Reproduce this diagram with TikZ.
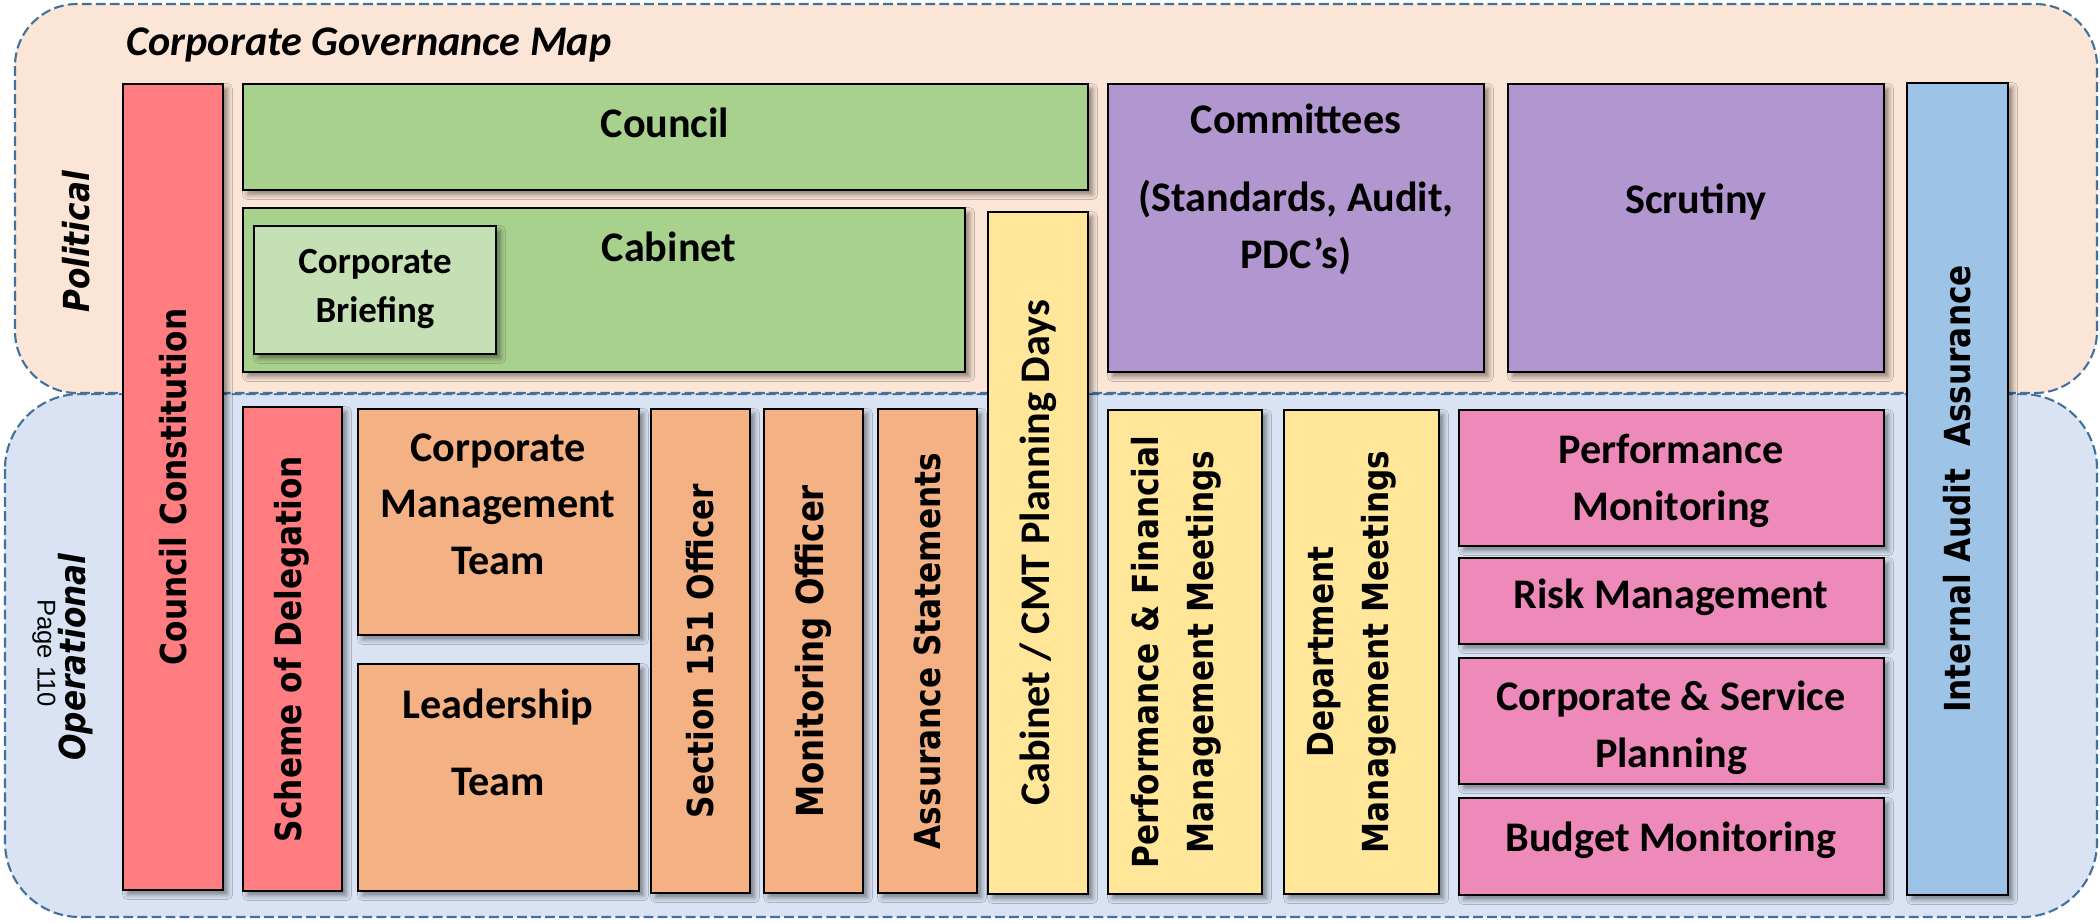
\documentclass[tikz,border=0pt]{standalone}
\usepackage{fontspec}
\setmainfont{Carlito}
\newfontfamily\tallfont{DejaVu Sans}[FakeStretch=0.87,
  ItalicFont=DejaVu Sans Oblique, BoldItalicFont=DejaVu Sans Bold Oblique]
\newfontfamily\pagefont{Liberation Sans}
\usepackage{xcolor}
\usetikzlibrary{shadows.blur}

\definecolor{politicalbg}{HTML}{FBE5D6}
\definecolor{operationalbg}{HTML}{DAE3F3}
\definecolor{regionline}{HTML}{41719C}
\definecolor{redbox}{HTML}{FF7C80}
\definecolor{greenbox}{HTML}{A9D18E}
\definecolor{palegreen}{HTML}{C5E0B4}
\definecolor{orangebox}{HTML}{F4B183}
\definecolor{yellowbox}{HTML}{FFE699}
\definecolor{purplebox}{HTML}{B296D0}
\definecolor{pinkbox}{HTML}{ED8AB9}
\definecolor{bluebox}{HTML}{9DC3E6}

\begin{document}
\begin{tikzpicture}[
    x=0.1mm, y=-0.1mm,
    % dashed panels behind everything
    region/.style={draw=regionline, line width=0.6pt, dash pattern=on 2.8pt off 1.2pt},
    % the coloured blocks
    govbox/.style={draw=black, line width=0.7pt,
        blur shadow={shadow xshift=1.3pt, shadow yshift=-1.3pt,
                     shadow blur radius=1.4pt, shadow opacity=45}},
    % horizontal labels sit on the baseline of their last line
    htext/.style={font=\fontsize{12}{16}\selectfont\bfseries, align=center,
                  anchor=base, inner sep=0pt},
    vtext/.style={font=\tallfont\fontsize{10.2}{15.6}\selectfont\bfseries,
                  align=center, rotate=90, inner sep=0pt}
]
    \useasboundingbox (0,0) rectangle (2100,922);

    % 1. Political and Operational panels
    \draw[region, fill=operationalbg, rounded corners=7.5mm] (5,394) rectangle (2097,917);
    \draw[region, fill=politicalbg, rounded corners=6.2mm] (15,4) rectangle (2097,393);

    \node[htext, anchor=base west, font=\fontsize{12}{14}\selectfont\bfseries\itshape]
        (title) at (126,55) {Corporate Governance Map};
    \node[vtext, font=\tallfont\fontsize{10.2}{12}\selectfont\bfseries\itshape]
        (political) at (76,242) {Political};
    \node[vtext, font=\tallfont\fontsize{10.2}{12}\selectfont\bfseries\itshape]
        (operational) at (76,657) {Operational};
    \node[font=\pagefont\fontsize{7.3}{8}\selectfont, rotate=-90, inner sep=0pt]
        (pagenum) at (44,653) {Page 110};

    % 2. Political blocks
    \draw[govbox, fill=greenbox] (243,84) rectangle (1088,190);
    \draw[govbox, fill=greenbox] (243,208) rectangle (965,372);
    \draw[govbox, fill=palegreen] (254,226) rectangle (496,354);
    \foreach \xa/\xb in {1108/1484, 1508/1884} {
        \draw[govbox, fill=purplebox] (\xa,84) rectangle (\xb,372);
    }

    \node[htext] (council) at (665,137) {Council};
    \node[htext] (cabinet) at (669,261) {Cabinet};
    \node[htext, font=\fontsize{10.5}{13.9}\selectfont\bfseries]
        (briefing) at (375,322) {Corporate\\Briefing};
    \node[htext] (committees) at (1296,268) {Committees\\[6.2pt](Standards, Audit,\\PDC's)};
    \node[htext] (scrutiny) at (1696,213) {Scrutiny};

    % 3. Operational blocks
    \draw[govbox, fill=redbox] (243,407) rectangle (342,891);
    \draw[govbox, fill=orangebox] (358,409) rectangle (639,635);
    \draw[govbox, fill=orangebox] (358,664) rectangle (639,891);
    \foreach \xa/\xb in {651/750, 764/863, 878/977} {
        \draw[govbox, fill=orangebox] (\xa,409) rectangle (\xb,893);
    }
    \foreach \xa/\xb in {1108/1262, 1284/1439} {
        \draw[govbox, fill=yellowbox] (\xa,410) rectangle (\xb,894);
    }
    \foreach \ya/\yb in {410/546, 558/644, 658/784, 798/895} {
        \draw[govbox, fill=pinkbox] (1459,\ya) rectangle (1884,\yb);
    }

    \node[vtext] (delegation) at (292,649) {Scheme of Delegation};
    \node[htext] (cmt) at (498,574) {Corporate\\Management\\Team};
    \node[htext] (leadership) at (498,795) {Leadership\\[5.8pt]Team};
    \node[vtext] (s151) at (700,651) {Section 151 Officer};
    \node[vtext, font=\tallfont\fontsize{10.6}{15.6}\selectfont\bfseries]
        (monitoring) at (813,651) {Monitoring Officer};
    \node[vtext] (statements) at (927,651) {Assurance Statements};
    \node[vtext] (finmeetings) at (1176,652) {Performance \& Financial\\Management Meetings};
    \node[vtext] (deptmeetings) at (1352,652) {Department\\Management Meetings};
    \node[htext] (perfmon) at (1671,520) {Performance\\Monitoring};
    \node[htext] (risk) at (1671,608) {Risk Management};
    \node[htext] (planning) at (1671,767) {Corporate \& Service\\Planning};
    \node[htext] (budget) at (1671,851) {Budget Monitoring};

    % 4. Tall blocks spanning both panels
    \draw[govbox, fill=redbox] (123,84) rectangle (223,890);
    \draw[govbox, fill=yellowbox] (988,212) rectangle (1088,894);
    \draw[govbox, fill=bluebox] (1907,83) rectangle (2008,895);

    \node[vtext] (constitution) at (173,487) {Council Constitution};
    \node[vtext, font=\fontsize{12}{14}\selectfont\bfseries]
        (planningdays) at (1038,553) {Cabinet / CMT Planning Days};
    \node[vtext] (audit) at (1957,489) {Internal Audit\ \ Assurance};

\end{tikzpicture}
\end{document}
